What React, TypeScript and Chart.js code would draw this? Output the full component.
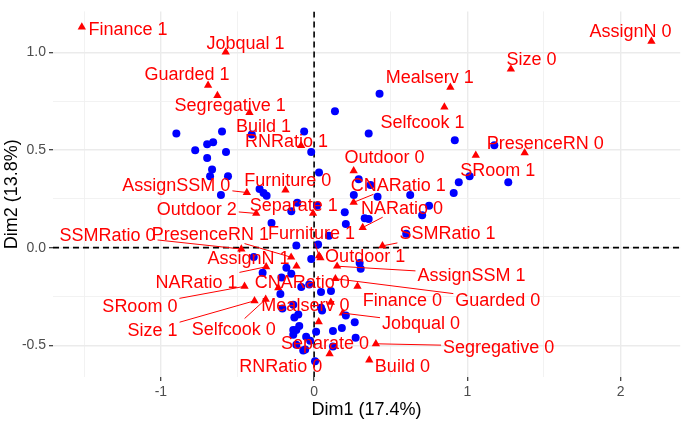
import React, { useEffect, useRef } from 'react';
import { Chart, registerables } from 'chart.js';

Chart.register(...registerables);

// Individuals (blue points)
const individualsX = [-0.899,-0.776,-0.698,-0.659,-0.601,-0.698,-0.575,-0.666,-0.679,-0.562,-0.608,-0.407,-0.065,-0.019,0.032,-0.356,-0.330,-0.310,-0.149,0.019,-0.110,-0.278,0.136,0.200,0.427,0.356,0.918,1.176,0.291,0.368,0.259,0.414,0.627,0.944,1.015,1.267,0.911,0.750,0.705,0.207,0.330,0.356,0.601,0.097,-0.116,0.026,-0.019,-0.394,-0.336,-0.213,-0.181,-0.149,0.297,0.304,-0.084,-0.032,0.045,0.110,-0.220,-0.136,0.045,0.207,0.265,0.181,0.271,0.123,0.123,-0.129,-0.103,-0.207,-0.097,-0.116,-0.136,-0.052,0.013,-0.026,-0.071,0.006,-0.058,0.052,-0.116,-0.136];
const individualsY = [0.584,0.499,0.529,0.539,0.594,0.459,0.489,0.400,0.365,0.365,0.270,0.579,0.594,0.489,0.385,0.300,0.280,0.265,0.186,0.215,0.230,0.126,0.698,0.181,0.788,0.584,0.549,0.524,0.350,0.320,0.270,0.260,0.270,0.335,0.365,0.335,0.280,0.215,0.166,0.121,0.151,0.146,0.071,0.061,0.011,0.016,-0.058,-0.048,-0.128,-0.153,-0.103,-0.133,-0.078,-0.108,-0.202,-0.188,-0.227,-0.222,-0.237,-0.292,-0.307,-0.347,-0.382,-0.411,-0.461,-0.426,-0.506,-0.357,-0.342,-0.312,-0.401,-0.421,-0.421,-0.456,-0.431,-0.476,-0.526,-0.581,-0.521,-0.322,-0.497,-0.446];

// Variable categories (red triangles)
const categoryNames = ['Finance 1','Jobqual 1','Guarded 1','Segregative 1','Build 1','RNRatio 1','AssignSSM 0','Furniture 0','Outdoor 2','Separate 1','Mealserv 1','Size 0','AssignN 0','Selfcook 1','PresenceRN 0','SRoom 1','Outdoor 0','CNARatio 1','NARatio 0','Furniture 1','Outdoor 1','SSMRatio 1','SSMRatio 0','PresenceRN 1','AssignN 1','NARatio 1','CNARatio 0','Guarded 0','AssignSSM 1','Finance 0','SRoom 0','Size 1','Selfcook 0','Jobqual 0','Mealserv 0','Separate 0','RNRatio 0','Segregative 0','Build 0'];
const categoryX = [-1.516,-0.577,-0.692,-0.631,-0.422,-0.085,-0.439,-0.187,-0.378,-0.007,0.889,1.284,2.201,0.850,1.374,1.055,0.258,0.258,0.317,0.032,0.041,0.446,-0.475,-0.150,-0.115,-0.313,-0.234,0.139,0.150,0.283,-0.454,-0.389,-0.316,0.187,0.109,0.030,0.101,0.403,0.360];
const categoryY = [1.129,1.001,0.831,0.778,0.691,0.522,0.282,0.295,0.175,0.175,0.820,0.914,1.056,0.719,0.485,0.472,0.393,0.232,0.103,-0.042,-0.052,0.009,-0.007,-0.049,-0.095,-0.098,-0.206,-0.159,-0.095,-0.198,-0.198,-0.272,-0.264,-0.335,-0.280,-0.380,-0.543,-0.492,-0.575];

// Repelled label anchors (data units, label centre), same order as categoryNames
const labelX = [-1.215,-0.448,-0.830,-0.548,-0.331,-0.180,-0.899,-0.172,-0.766,-0.133,0.754,1.418,2.065,0.707,1.508,1.198,0.459,0.549,0.574,-0.017,0.333,0.870,-1.348,-0.677,-0.428,-0.768,-0.077,1.199,1.027,0.576,-1.137,-1.054,-0.525,0.698,-0.057,0.071,-0.218,1.204,0.576];
const labelY = [1.122,1.052,0.889,0.732,0.626,0.550,0.324,0.348,0.201,0.219,0.877,0.969,1.111,0.648,0.538,0.402,0.466,0.324,0.207,0.075,-0.041,0.075,0.067,0.072,-0.049,-0.173,-0.171,-0.264,-0.136,-0.264,-0.297,-0.421,-0.414,-0.384,-0.293,-0.487,-0.603,-0.505,-0.603];
const segmentLabels = ['AssignSSM 0','Outdoor 2','CNARatio 1','NARatio 0','SSMRatio 1','SSMRatio 0','PresenceRN 1','Furniture 1','NARatio 1','SRoom 0','Size 1','Selfcook 0','AssignSSM 1','Guarded 0','Jobqual 0','Segregative 0'];

const xTickValues = [-1, 0, 1, 2];
const yTickValues = [-0.5, 0, 0.5, 1];

const X_MIN = -1.704, X_MAX = 2.389, Y_MIN = -0.662, Y_MAX = 1.209;
const FONT = "'Liberation Sans', Arial, Helvetica, sans-serif";

const isMajorX = (v: number) => xTickValues.some(t => Math.abs(t - v) < 1e-9);
const isMajorY = (v: number) => yTickValues.some(t => Math.abs(t - v) < 1e-9);

const biplotPlugin = {
  id: 'biplot',
  beforeDatasetsDraw(chart: any) {
    const { ctx, chartArea, scales } = chart;
    const x = scales.x, y = scales.y;
    ctx.save();
    ctx.beginPath();
    ctx.rect(chartArea.left, chartArea.top, chartArea.right - chartArea.left, chartArea.bottom - chartArea.top);
    ctx.clip();
    ctx.setLineDash([6, 4]);
    ctx.strokeStyle = '#000000';
    ctx.lineWidth = 1.6;
    const px0 = x.getPixelForValue(0);
    const py0 = y.getPixelForValue(0);
    ctx.beginPath();
    ctx.moveTo(px0, chartArea.top);
    ctx.lineTo(px0, chartArea.bottom);
    ctx.moveTo(chartArea.left, py0);
    ctx.lineTo(chartArea.right, py0);
    ctx.stroke();
    ctx.restore();
  },
  afterDatasetsDraw(chart: any) {
    const { ctx, scales } = chart;
    const x = scales.x, y = scales.y;
    ctx.save();
    ctx.font = `18px ${FONT}`;
    ctx.strokeStyle = '#FF0000';
    ctx.fillStyle = '#FF0000';
    ctx.lineWidth = 1;
    ctx.setLineDash([]);
    categoryNames.forEach((name, i) => {
      if (!segmentLabels.includes(name)) return;
      const cx = x.getPixelForValue(labelX[i]);
      const cy = y.getPixelForValue(labelY[i]);
      const px = x.getPixelForValue(categoryX[i]);
      const py = y.getPixelForValue(categoryY[i]);
      const w = ctx.measureText(name).width / 2 + 2;
      const h = 10;
      const dx = px - cx, dy = py - cy;
      const tx = dx !== 0 ? Math.abs(w / dx) : Infinity;
      const ty = dy !== 0 ? Math.abs(h / dy) : Infinity;
      const t = Math.min(tx, ty);
      if (t >= 1) return;
      ctx.beginPath();
      ctx.moveTo(cx + dx * t, cy + dy * t);
      ctx.lineTo(px, py);
      ctx.stroke();
    });
    ctx.textAlign = 'center';
    ctx.textBaseline = 'alphabetic';
    categoryNames.forEach((name, i) => {
      const cx = x.getPixelForValue(labelX[i]);
      const cy = y.getPixelForValue(labelY[i]);
      ctx.fillText(name, cx, cy + 6.5);
    });
    ctx.restore();
  },
};

export default function App() {
  const canvasRef = useRef<HTMLCanvasElement | null>(null);

  useEffect(() => {
    if (!canvasRef.current) return;
    Chart.defaults.font.family = FONT;
    const chart = new Chart(canvasRef.current, {
      type: 'scatter',
      data: {
        datasets: [
          {
            label: 'Individuals',
            data: individualsX.map((v, i) => ({ x: v, y: individualsY[i] })),
            pointStyle: 'circle',
            pointRadius: 4,
            pointHoverRadius: 4,
            backgroundColor: '#0000FF',
            borderWidth: 0,
          },
          {
            label: 'Categories',
            data: categoryX.map((v, i) => ({ x: v, y: categoryY[i] })),
            pointStyle: 'triangle',
            pointRadius: 4.8,
            pointHoverRadius: 4.8,
            backgroundColor: '#FF0000',
            borderWidth: 0,
          },
        ],
      },
      options: {
        animation: false,
        responsive: false,
        devicePixelRatio: 1,
        layout: { padding: 0 },
        plugins: { legend: { display: false }, tooltip: { enabled: false } },
        events: [],
        scales: {
          x: {
            type: 'linear',
            min: X_MIN,
            max: X_MAX,
            afterFit: (s: any) => { s.height = 44; },
            border: { display: false },
            grid: {
              color: (c: any) => (c.tick && isMajorX(c.tick.value) ? '#EBEBEB' : '#F0F0F0'),
              lineWidth: (c: any) => (c.tick && isMajorX(c.tick.value) ? 1.4 : 0.9),
              tickColor: (c: any) => (c.tick && isMajorX(c.tick.value) ? '#333333' : 'rgba(0,0,0,0)'),
              tickLength: 4,
              tickWidth: 1.2,
            },
            ticks: {
              stepSize: 0.5,
              includeBounds: false,
              autoSkip: false,
              maxRotation: 0,
              padding: 3,
              color: '#4D4D4D',
              font: { size: 14, family: FONT },
              callback: (v: any) => (isMajorX(Number(v)) ? String(Math.round(Number(v))) : ''),
            },
            title: {
              display: true,
              text: 'Dim1 (17.4%)',
              color: '#000000',
              font: { size: 18, family: FONT },
              padding: { top: 0, bottom: 0 },
            },
          },
          y: {
            type: 'linear',
            min: Y_MIN,
            max: Y_MAX,
            afterFit: (s: any) => { s.width = 53; },
            border: { display: false },
            grid: {
              color: (c: any) => (c.tick && isMajorY(c.tick.value) ? '#EBEBEB' : '#F0F0F0'),
              lineWidth: (c: any) => (c.tick && isMajorY(c.tick.value) ? 1.4 : 0.9),
              tickColor: (c: any) => (c.tick && isMajorY(c.tick.value) ? '#333333' : 'rgba(0,0,0,0)'),
              tickLength: 4,
              tickWidth: 1.2,
            },
            ticks: {
              stepSize: 0.25,
              includeBounds: false,
              autoSkip: false,
              padding: 3,
              color: '#4D4D4D',
              font: { size: 14, family: FONT },
              callback: (v: any) => (isMajorY(Number(v)) ? Number(v).toFixed(1) : ''),
            },
            title: {
              display: true,
              text: 'Dim2 (13.8%)',
              color: '#000000',
              font: { size: 18, family: FONT },
              padding: { top: 1, bottom: 0 },
            },
          },
        },
      },
      plugins: [biplotPlugin],
    } as any);
    return () => chart.destroy();
  }, []);

  return (
    <div style={{ position: 'absolute', left: 0, top: 0, width: 685, height: 421, background: '#FFFFFF' }}>
      <canvas ref={canvasRef} width={685} height={421} style={{ display: 'block' }} />
    </div>
  );
}
